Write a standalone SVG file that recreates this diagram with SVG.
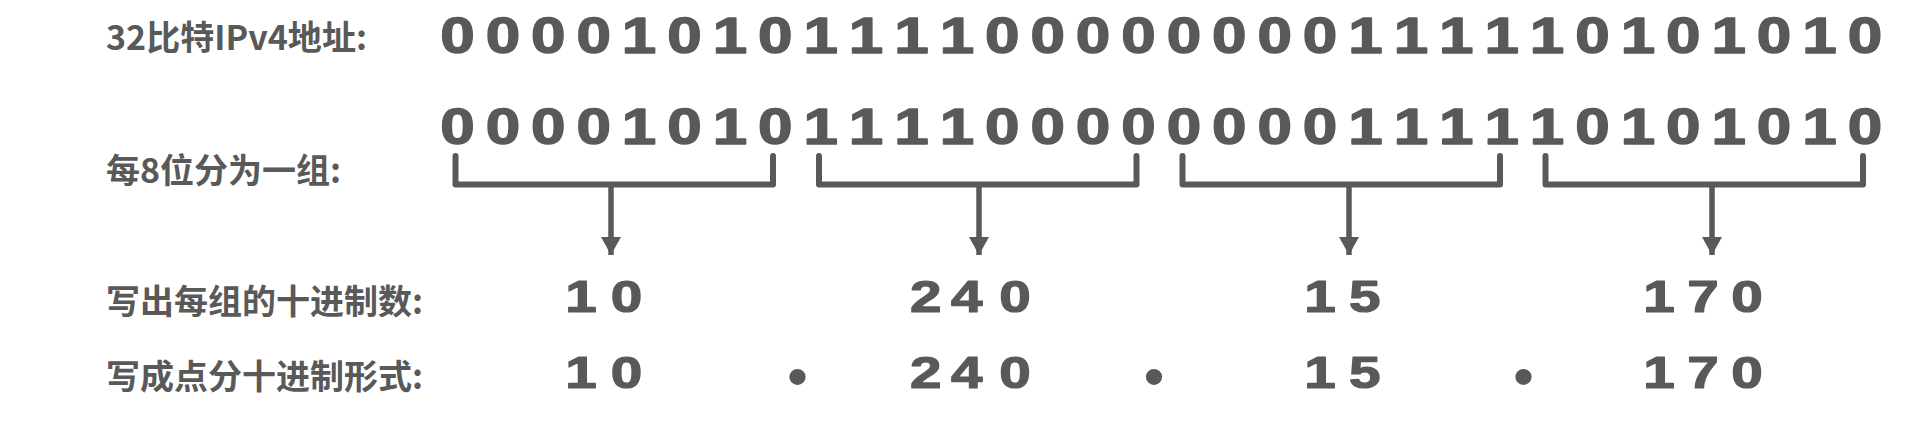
<svg xmlns="http://www.w3.org/2000/svg" width="1918" height="426" viewBox="0 0 1918 426">
<style>
.lbl{font-family:"Noto Sans CJK SC","Liberation Sans",sans-serif;font-weight:bold;font-size:34px;fill:#595959}
.bits{font-family:"Liberation Sans",Arial,sans-serif;font-weight:bold;font-size:50px;fill:#595959;stroke:#595959;stroke-width:1.4;stroke-linejoin:round;text-anchor:middle}
.dec{font-family:"Liberation Sans",Arial,sans-serif;font-weight:bold;font-size:45px;fill:#595959;stroke:#595959;stroke-width:1.2;stroke-linejoin:round;text-anchor:middle}
.dot{font-family:"Liberation Sans",Arial,sans-serif;font-size:60px;fill:#595959;text-anchor:middle}
.br{fill:none;stroke:#595959;stroke-width:6;stroke-linecap:round;stroke-linejoin:round}
.stem{fill:none;stroke:#595959;stroke-width:5.5}
</style>
<defs>
<marker id="ah" markerUnits="userSpaceOnUse" markerWidth="20" markerHeight="20" refX="18" refY="10" orient="auto" viewBox="0 0 20 20">
<path d="M0,0 L18,10 L0,20 Z" fill="#595959"/>
</marker>
</defs>
<rect width="1918" height="426" fill="#ffffff"/>

<g id="labels">
<text id="label-ipv4" class="lbl" x="106" y="50" textLength="261" lengthAdjust="spacingAndGlyphs">32比特IPv4地址:</text>
<text id="label-group" class="lbl" x="106" y="182.5">每8位分为一组:</text>
<text id="label-decimal" class="lbl" x="106" y="314">写出每组的十进制数:</text>
<text id="label-dotted" class="lbl" x="106" y="389">写成点分十进制形式:</text>
</g>

<g id="binary-rows" transform="scale(1.24 1)">
<text id="bits-row1" class="bits" y="53.5" x="368.95 405.56 442.18 478.79 515.40 552.02 588.63 625.24 661.85 698.47 735.08 771.69 808.31 844.92 881.53 918.15 954.76 991.37 1027.98 1064.60 1101.21 1137.82 1174.44 1211.05 1247.66 1284.28 1320.89 1357.50 1394.11 1430.73 1467.34 1503.95">00001010111100000000111110101010</text>
<text id="bits-row2" class="bits" y="144" x="368.95 405.56 442.18 478.79 515.40 552.02 588.63 625.24 661.85 698.47 735.08 771.69 808.31 844.92 881.53 918.15 954.76 991.37 1027.98 1064.60 1101.21 1137.82 1174.44 1211.05 1247.66 1284.28 1320.89 1357.50 1394.11 1430.73 1467.34 1503.95">00001010111100000000111110101010</text>
</g>

<g id="connectors">
<path class="br" d="M455.5,156 V184.5 H773 V156"/>
<path class="br" d="M819,156 V184.5 H1136.5 V156"/>
<path class="br" d="M1182.5,156 V184.5 H1500 V156"/>
<path class="br" d="M1545.5,156 V184.5 H1863 V156"/>
<line class="stem" x1="611" y1="187" x2="611" y2="255" marker-end="url(#ah)"/>
<line class="stem" x1="979" y1="187" x2="979" y2="255" marker-end="url(#ah)"/>
<line class="stem" x1="1349" y1="187" x2="1349" y2="255" marker-end="url(#ah)"/>
<line class="stem" x1="1712" y1="187" x2="1712" y2="255" marker-end="url(#ah)"/>
</g>

<g id="decimal-row" transform="scale(1.26 1)">
<text id="dec-1" class="dec" y="312" x="461.11 497.22">10</text>
<text id="dec-2" class="dec" y="312" x="734.76 767.22 805.56">240</text>
<text id="dec-3" class="dec" y="312" x="1047.62 1083.10">15</text>
<text id="dec-4" class="dec" y="312" x="1316.67 1351.59 1386.51">170</text>
</g>

<g id="dotted-row">
<g transform="scale(1.26 1)">
<text id="dot-1" class="dec" y="388" x="461.11 497.22">10</text>
<text id="dot-2" class="dec" y="388" x="734.76 767.22 805.56">240</text>
<text id="dot-3" class="dec" y="388" x="1047.62 1083.10">15</text>
<text id="dot-4" class="dec" y="388" x="1316.67 1351.59 1386.51">170</text>
</g>
<text class="dot" x="797.5" y="397">•</text>
<text class="dot" x="1154" y="397">•</text>
<text class="dot" x="1523.5" y="397">•</text>
</g>
</svg>
